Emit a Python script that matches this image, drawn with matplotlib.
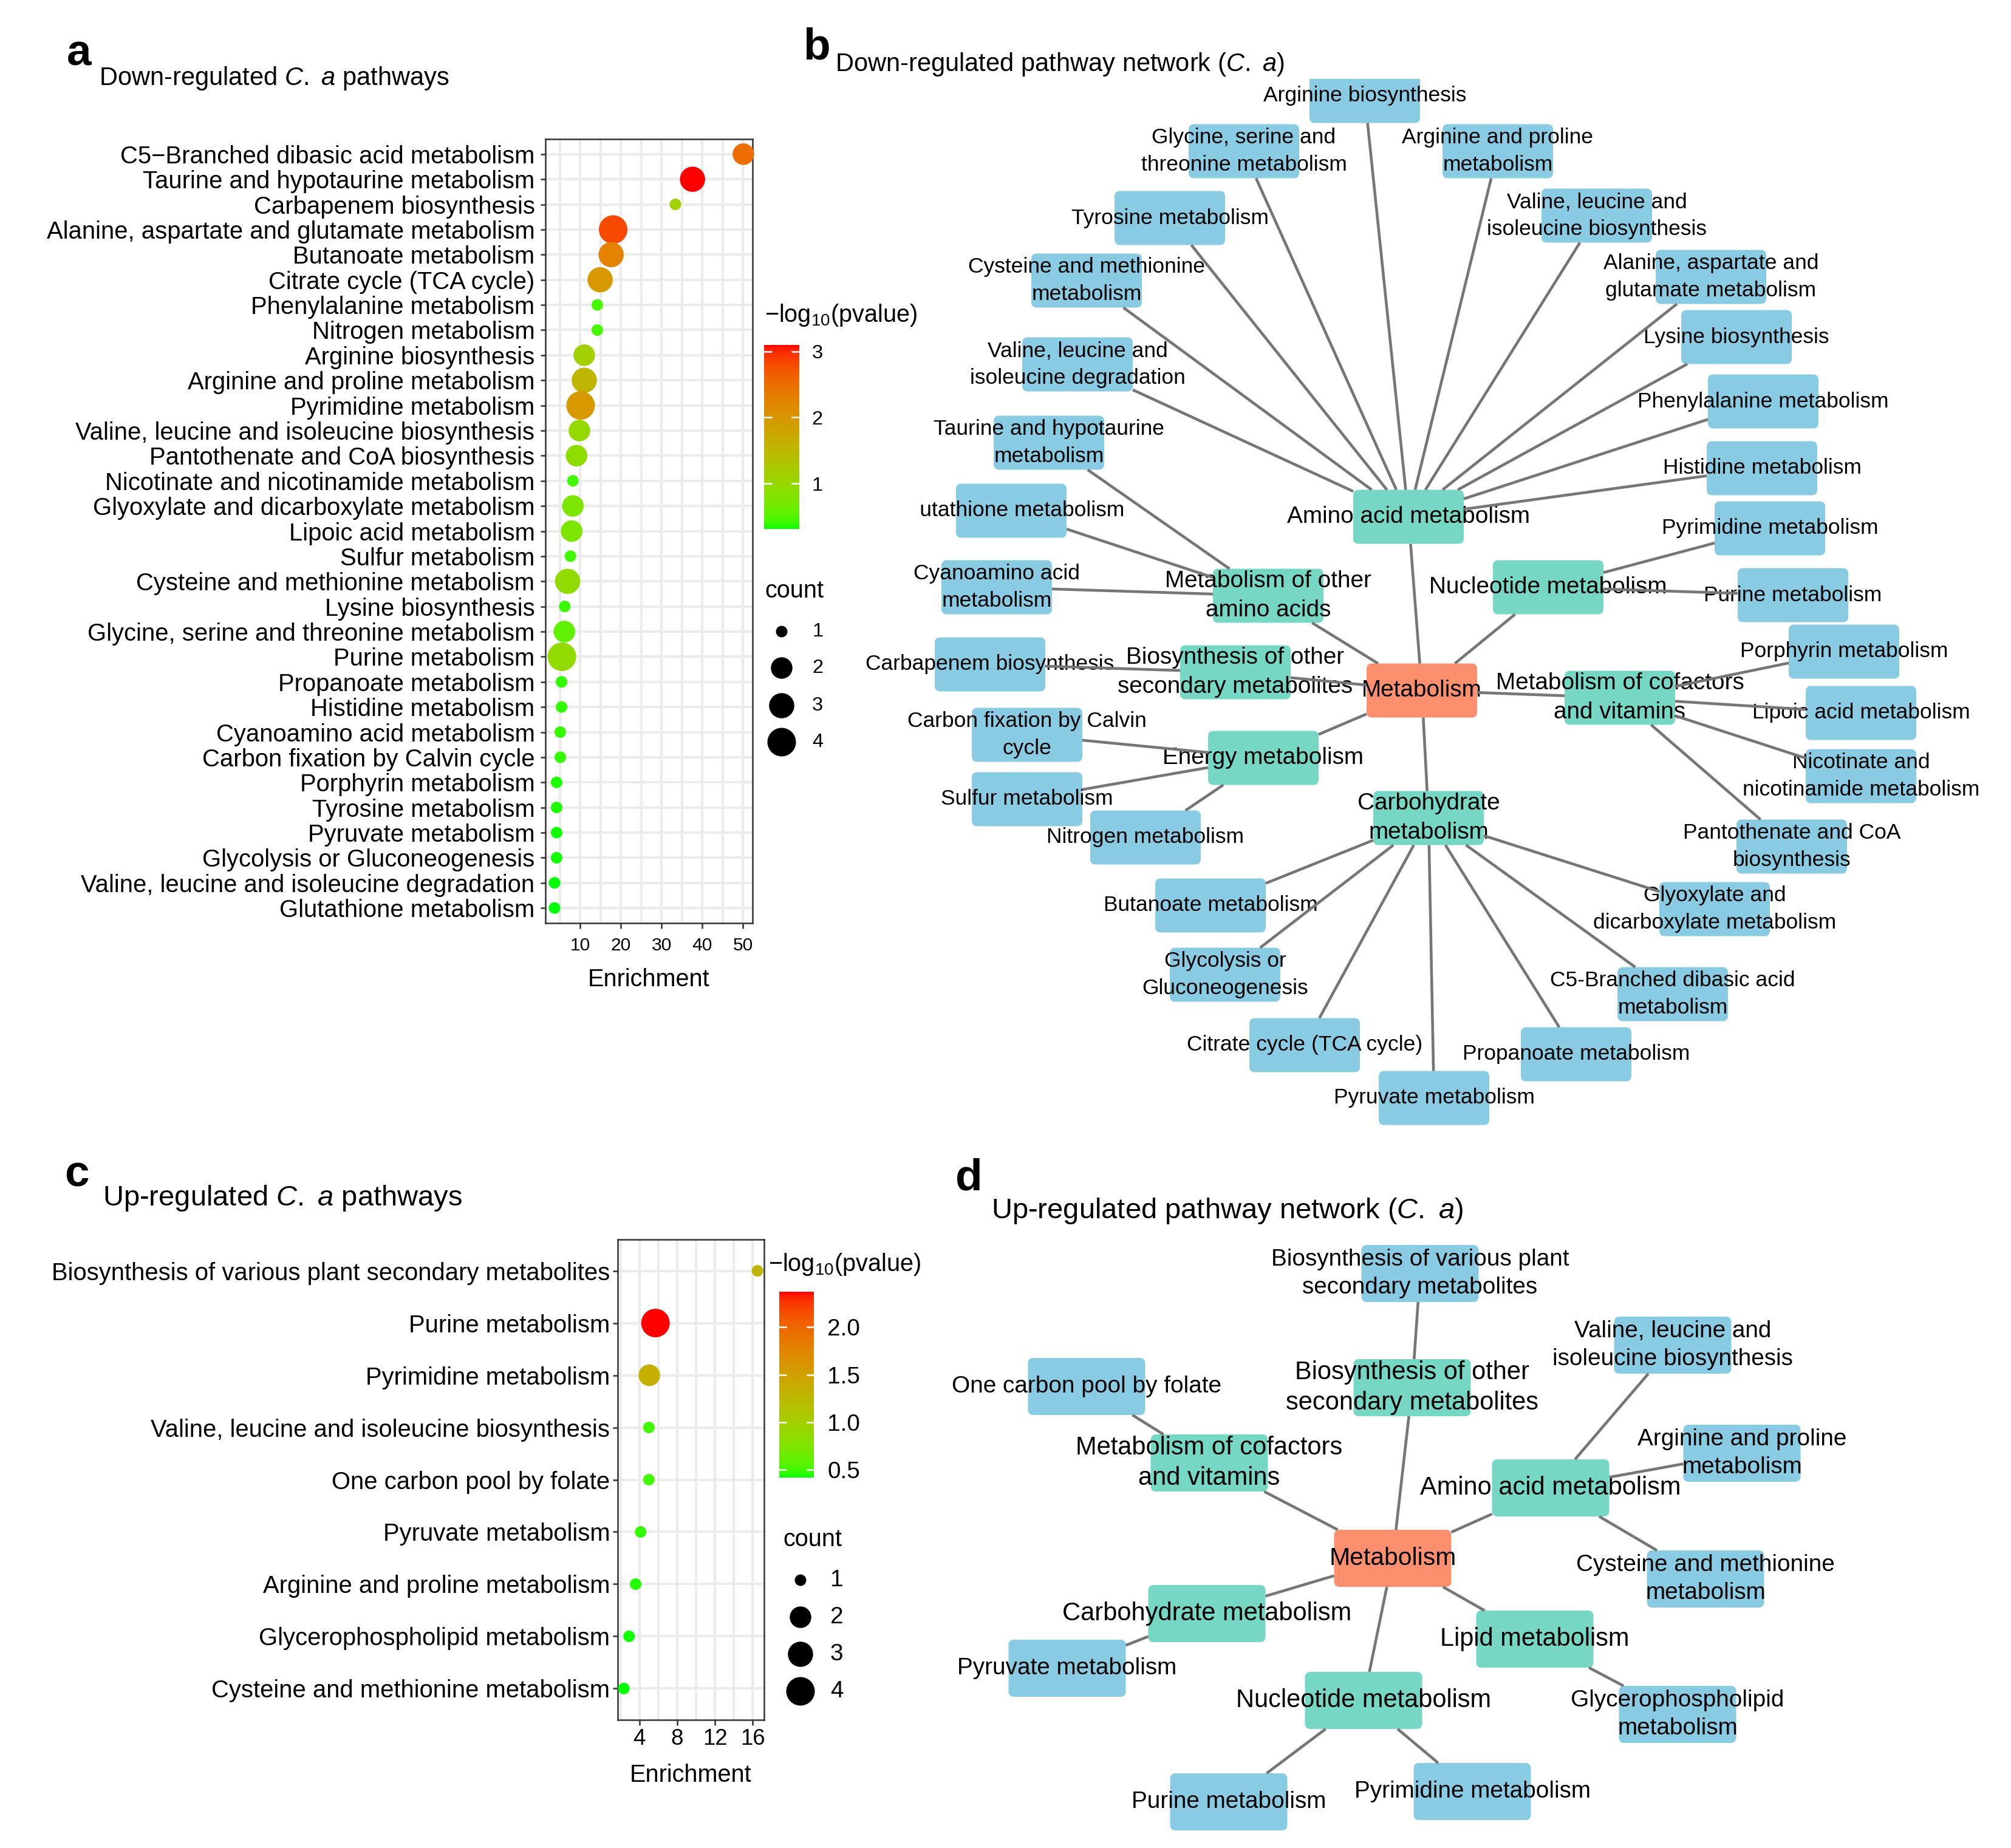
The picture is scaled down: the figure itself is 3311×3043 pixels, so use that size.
import numpy as np
import matplotlib
matplotlib.use('Agg')
import matplotlib.pyplot as plt
from matplotlib.colors import ListedColormap, Normalize
from matplotlib.patches import FancyBboxPatch, Rectangle

plt.rcParams.update({
    'font.family': ['Liberation Sans', 'DejaVu Sans'],
    'mathtext.fontset': 'custom',
    'mathtext.rm': 'Liberation Sans',
    'mathtext.it': 'Liberation Sans:italic',
    'mathtext.bf': 'Liberation Sans:bold',
})

W, H, DPI = 3311, 3043, 300

# ---------------- panel a: down-regulated pathways ----------------
down_paths = [
    "C5\u2212Branched dibasic acid metabolism",
    "Taurine and hypotaurine metabolism",
    "Carbapenem biosynthesis",
    "Alanine, aspartate and glutamate metabolism",
    "Butanoate metabolism",
    "Citrate cycle (TCA cycle)",
    "Phenylalanine metabolism",
    "Nitrogen metabolism",
    "Arginine biosynthesis",
    "Arginine and proline metabolism",
    "Pyrimidine metabolism",
    "Valine, leucine and isoleucine biosynthesis",
    "Pantothenate and CoA biosynthesis",
    "Nicotinate and nicotinamide metabolism",
    "Glyoxylate and dicarboxylate metabolism",
    "Lipoic acid metabolism",
    "Sulfur metabolism",
    "Cysteine and methionine metabolism",
    "Lysine biosynthesis",
    "Glycine, serine and threonine metabolism",
    "Purine metabolism",
    "Propanoate metabolism",
    "Histidine metabolism",
    "Cyanoamino acid metabolism",
    "Carbon fixation by Calvin cycle",
    "Porphyrin metabolism",
    "Tyrosine metabolism",
    "Pyruvate metabolism",
    "Glycolysis or Gluconeogenesis",
    "Valine, leucine and isoleucine degradation",
    "Glutathione metabolism",
]
down_enrich = [50.1, 37.6, 33.4, 18.1, 17.6, 14.9, 14.2, 14.2, 11.0, 11.0, 10.1,
               9.8, 9.1, 8.2, 8.2, 7.9, 7.6, 6.9, 6.2, 6.1, 5.5, 5.4, 5.4, 5.1,
               5.1, 4.2, 4.2, 4.2, 4.2, 3.7, 3.7]
down_count = [2, 3, 1, 4, 3, 3, 1, 1, 2, 3, 4, 2, 2, 1, 2, 2, 1, 3, 1, 2, 4,
              1, 1, 1, 1, 1, 1, 1, 1, 1, 1]
down_logp = [2.49, 3.10, 1.08, 2.82, 2.26, 1.98, 0.45, 0.45, 1.12, 1.56, 1.98,
             0.98, 0.92, 0.42, 0.75, 0.75, 0.42, 0.95, 0.40, 0.55, 0.95, 0.38,
             0.38, 0.38, 0.38, 0.34, 0.34, 0.33, 0.33, 0.32, 0.31]

# ---------------- panel c: up-regulated pathways ----------------
up_paths = [
    "Biosynthesis of various plant secondary metabolites",
    "Purine metabolism",
    "Pyrimidine metabolism",
    "Valine, leucine and isoleucine biosynthesis",
    "One carbon pool by folate",
    "Pyruvate metabolism",
    "Arginine and proline metabolism",
    "Glycerophospholipid metabolism",
    "Cysteine and methionine metabolism",
]
up_enrich = [16.5, 5.7, 5.05, 5.0, 5.0, 4.13, 3.6, 2.9, 2.35]
up_count = [1, 4, 2, 1, 1, 1, 1, 1, 1]
up_logp = [1.30, 2.37, 1.35, 0.50, 0.50, 0.47, 0.45, 0.43, 0.42]

count_levels = [1, 2, 3, 4]

# ---------------- panel b: down-regulated network ----------------
down_links = {
    "Amino acid metabolism": [
        "Arginine biosynthesis", "Glycine, serine and\nthreonine metabolism",
        "Arginine and proline\nmetabolism", "Valine, leucine and\nisoleucine biosynthesis",
        "Tyrosine metabolism", "Alanine, aspartate and\nglutamate metabolism",
        "Cysteine and methionine\nmetabolism", "Lysine biosynthesis",
        "Valine, leucine and\nisoleucine degradation", "Phenylalanine metabolism",
        "Histidine metabolism"],
    "Metabolism of other\namino acids": [
        "Taurine and hypotaurine\nmetabolism", "Glutathione metabolism",
        "Cyanoamino acid\nmetabolism"],
    "Nucleotide metabolism": ["Pyrimidine metabolism", "Purine metabolism"],
    "Biosynthesis of other\nsecondary metabolites": ["Carbapenem biosynthesis"],
    "Metabolism of cofactors\nand vitamins": [
        "Porphyrin metabolism", "Lipoic acid metabolism",
        "Nicotinate and\nnicotinamide metabolism", "Pantothenate and CoA\nbiosynthesis"],
    "Energy metabolism": [
        "Carbon fixation by Calvin\ncycle", "Sulfur metabolism", "Nitrogen metabolism"],
    "Carbohydrate\nmetabolism": [
        "Glyoxylate and\ndicarboxylate metabolism", "C5-Branched dibasic acid\nmetabolism",
        "Propanoate metabolism", "Pyruvate metabolism", "Citrate cycle (TCA cycle)",
        "Glycolysis or\nGluconeogenesis", "Butanoate metabolism"],
}

# node layout (figure pixels, origin top-left)
down_layout = {
    "Metabolism": (2341, 1137),
    "Amino acid metabolism": (2319, 851),
    "Metabolism of other\namino acids": (2088, 981),
    "Nucleotide metabolism": (2549, 967),
    "Biosynthesis of other\nsecondary metabolites": (2034, 1107),
    "Metabolism of cofactors\nand vitamins": (2667, 1149),
    "Energy metabolism": (2080, 1248),
    "Carbohydrate\nmetabolism": (2352, 1347),
    "Arginine biosynthesis": (2247, 158),
    "Glycine, serine and\nthreonine metabolism": (2048, 249),
    "Arginine and proline\nmetabolism": (2466, 249),
    "Valine, leucine and\nisoleucine biosynthesis": (2629, 355),
    "Tyrosine metabolism": (1926, 359),
    "Alanine, aspartate and\nglutamate metabolism": (2817, 456),
    "Cysteine and methionine\nmetabolism": (1789, 462),
    "Lysine biosynthesis": (2859, 555),
    "Valine, leucine and\nisoleucine degradation": (1774, 600),
    "Phenylalanine metabolism": (2903, 661),
    "Histidine metabolism": (2901, 771),
    "Taurine and hypotaurine\nmetabolism": (1727, 729),
    "Glutathione metabolism": (1665, 841),
    "Cyanoamino acid\nmetabolism": (1641, 967),
    "Carbapenem biosynthesis": (1630, 1094),
    "Carbon fixation by Calvin\ncycle": (1691, 1210),
    "Sulfur metabolism": (1691, 1316),
    "Nitrogen metabolism": (1886, 1379),
    "Pyrimidine metabolism": (2914, 870),
    "Purine metabolism": (2952, 980),
    "Porphyrin metabolism": (3036, 1073),
    "Lipoic acid metabolism": (3064, 1174),
    "Nicotinate and\nnicotinamide metabolism": (3064, 1278),
    "Pantothenate and CoA\nbiosynthesis": (2950, 1394),
    "Glyoxylate and\ndicarboxylate metabolism": (2823, 1497),
    "C5-Branched dibasic acid\nmetabolism": (2754, 1637),
    "Propanoate metabolism": (2595, 1736),
    "Pyruvate metabolism": (2361, 1808),
    "Citrate cycle (TCA cycle)": (2148, 1721),
    "Glycolysis or\nGluconeogenesis": (2017, 1605),
    "Butanoate metabolism": (1993, 1491),
}

# ---------------- panel d: up-regulated network ----------------
up_links = {
    "Biosynthesis of other\nsecondary metabolites": ["Biosynthesis of various plant\nsecondary metabolites"],
    "Metabolism of cofactors\nand vitamins": ["One carbon pool by folate"],
    "Amino acid metabolism": [
        "Valine, leucine and\nisoleucine biosynthesis", "Arginine and proline\nmetabolism",
        "Cysteine and methionine\nmetabolism"],
    "Carbohydrate metabolism": ["Pyruvate metabolism"],
    "Lipid metabolism": ["Glycerophospholipid\nmetabolism"],
    "Nucleotide metabolism": ["Purine metabolism", "Pyrimidine metabolism"],
}

up_layout = {
    "Metabolism": (2293, 2566),
    "Biosynthesis of other\nsecondary metabolites": (2325, 2285),
    "Biosynthesis of various plant\nsecondary metabolites": (2338, 2097),
    "Metabolism of cofactors\nand vitamins": (1991, 2409),
    "One carbon pool by folate": (1789, 2283),
    "Amino acid metabolism": (2553, 2450),
    "Valine, leucine and\nisoleucine biosynthesis": (2754, 2215),
    "Arginine and proline\nmetabolism": (2868, 2393),
    "Cysteine and methionine\nmetabolism": (2808, 2600),
    "Carbohydrate metabolism": (1987, 2657),
    "Pyruvate metabolism": (1757, 2747),
    "Lipid metabolism": (2527, 2699),
    "Glycerophospholipid\nmetabolism": (2762, 2823),
    "Nucleotide metabolism": (2245, 2800),
    "Purine metabolism": (2023, 2967),
    "Pyrimidine metabolism": (2424, 2950),
}


def lab_ramp(c0, c1, n=256):
    # green -> red interpolated in CIE Lab, like ggplot's scale_colour_gradient
    M = np.array([[0.4124564, 0.3575761, 0.1804375],
                  [0.2126729, 0.7151522, 0.0721750],
                  [0.0193339, 0.1191920, 0.9503041]])
    white = np.array([0.95047, 1.0, 1.08883])

    def to_lab(rgb):
        c = np.asarray(rgb, float)
        c = np.where(c > 0.04045, ((c + 0.055) / 1.055) ** 2.4, c / 12.92)
        xyz = M @ c / white
        f = np.where(xyz > 0.008856, np.cbrt(xyz), 7.787 * xyz + 16 / 116)
        return np.array([116 * f[1] - 16, 500 * (f[0] - f[1]), 200 * (f[1] - f[2])])

    def to_rgb(lab):
        fy = (lab[0] + 16) / 116
        f = np.array([fy + lab[1] / 500, fy, fy - lab[2] / 200])
        xyz = np.where(f ** 3 > 0.008856, f ** 3, (f - 16 / 116) / 7.787) * white
        c = np.clip(np.linalg.solve(M, xyz), 0, 1)
        return np.clip(np.where(c > 0.0031308, 1.055 * c ** (1 / 2.4) - 0.055, 12.92 * c), 0, 1)

    a, b = to_lab(c0), to_lab(c1)
    return ListedColormap([to_rgb(a + (b - a) * t) for t in np.linspace(0, 1, n)])


cmap = lab_ramp((0, 1, 0), (1, 0, 0))


def dot_pt(count):
    # size scale: count -> marker diameter (px) -> points
    return np.interp(count, [1, 2, 3, 4], [19, 35.5, 41.5, 47]) * 72 / DPI


fig = plt.figure(figsize=(W / DPI, H / DPI), dpi=DPI)


def px_axes(x0, y0, x1, y1, **kw):
    return fig.add_axes([x0 / W, 1 - y1 / H, (x1 - x0) / W, (y1 - y0) / H], **kw)


def dot_panel(box, paths, enrich, count, logp, xlim, major, minor, xfs, ypad, xpad, labpad):
    ax = px_axes(*box)
    n = len(paths)
    y = np.arange(n)[::-1]
    norm = Normalize(min(logp), max(logp))
    ax.scatter(enrich, y, s=dot_pt(np.array(count)) ** 2, c=logp, cmap=cmap, norm=norm,
               edgecolors='none', zorder=3, clip_on=False)
    ax.set_xlim(*xlim)
    ax.set_ylim(-0.6, n - 0.4)
    ax.set_xticks(major)
    ax.set_xticks(minor, minor=True)
    ax.set_yticks(y)
    ax.set_yticklabels(paths, fontsize=9.6)
    ax.tick_params(axis='x', which='major', labelsize=xfs, length=2.2, width=0.6,
                   color='#333333', pad=xpad)
    ax.tick_params(axis='x', which='minor', length=0)
    ax.tick_params(axis='y', length=2, width=0.6, color='#333333', pad=ypad)
    ax.grid(True, which='both', axis='x', color='#EBEBEB', lw=1.0, zorder=0)
    ax.grid(True, which='major', axis='y', color='#EBEBEB', lw=1.0, zorder=0)
    ax.set_axisbelow(True)
    for s in ax.spines.values():
        s.set_color('#333333')
        s.set_linewidth(0.6)
    ax.set_xlabel('Enrichment', fontsize=9.5, labelpad=labpad)
    return ax


dot_panel((898, 229, 1239, 1520), down_paths, down_enrich, down_count, down_logp,
          (1.45, 52.35), [10, 20, 30, 40, 50], [5, 15, 25, 35, 45], 7.2, 2.2, 3.4, 5.5)
dot_panel((1017, 2041, 1258, 2832), up_paths, up_enrich, up_count, up_logp,
          (1.7, 17.2), [4, 8, 12, 16], [2, 6, 10, 14], 8.8, 1.0, 1.2, 5.5)


def network(box, links, layout, bw, bh, fs_leaf, fs_cat, fs_mid, ls):
    ax = px_axes(*box)
    ax.set_xlim(box[0], box[2])
    ax.set_ylim(box[3], box[1])
    ax.axis('off')

    def edge(a, b):
        (x0, y0), (x1, y1) = layout[a], layout[b]
        dx, dy = x1 - x0, y1 - y0
        t = min(bw / 2 / max(abs(dx), 1e-9), bh / 2 / max(abs(dy), 1e-9))
        ax.plot([x0 + dx * t, x1 - dx * t], [y0 + dy * t, y1 - dy * t],
                color='#767676', lw=1.1, zorder=3, solid_capstyle='butt')

    def node(name, color, fs):
        x, y = layout[name]
        ax.add_patch(FancyBboxPatch((x - bw / 2, y - bh / 2), bw, bh,
                                    boxstyle='round,pad=0,rounding_size=9',
                                    fc=color, ec='none', zorder=1))
        ax.text(x, y, name, ha='center', va='center', fontsize=fs, linespacing=ls,
                zorder=2, clip_on=False)

    for cat, leaves in links.items():
        edge('Metabolism', cat)
        for leaf in leaves:
            edge(cat, leaf)
            node(leaf, '#89CBE3', fs_leaf)
        node(cat, '#76D7C4', fs_cat)
    node('Metabolism', '#FC8F6E', fs_mid)
    return ax


network((1330, 130, 3311, 1900), down_links, down_layout, 182, 89, 8.5, 9.3, 9.3, 1.45)
network((1560, 2040, 3311, 3043), up_links, up_layout, 193, 94, 9.3, 10.0, 9.8, 1.35)

# overlay for titles and legends, in figure pixels
ov = fig.add_axes([0, 0, 1, 1], zorder=5)
ov.set_xlim(0, W)
ov.set_ylim(H, 0)
ov.axis('off')
ov.patch.set_alpha(0)

# legend background of panel a (covers the panel b label behind it)
ov.add_patch(Rectangle((1244, 488), 268, 400, fc='white', ec='none', zorder=0))

titles = [
    (110, 108, 'a', 17.5, 'bold'),
    (163, 140, r'Down-regulated $\mathit{C.}$ $\mathit{a}$ pathways', 10.0, 'normal'),
    (1322, 98, 'b', 17.5, 'bold'),
    (1375, 117, r'Down-regulated pathway network ($\mathit{C.}$ $\mathit{a}$)', 10.0, 'normal'),
    (106, 1953, 'c', 17.5, 'bold'),
    (169, 1985, r'Up-regulated $\mathit{C.}$ $\mathit{a}$ pathways', 11.3, 'normal'),
    (1573, 1960, 'd', 17.5, 'bold'),
    (1632, 2006, r'Up-regulated pathway network ($\mathit{C.}$ $\mathit{a}$)', 11.3, 'normal'),
]
for x, y, s, fs, fw in titles:
    ov.text(x, y, s, fontsize=fs, fontweight=fw, va='baseline', ha='left')


def legends(logp, bar, ticks, fmt, tfs, title_xy, count_title_xy, dot_x, dot_y, lab_x, lab_pad):
    vmin, vmax = min(logp), max(logp)
    ov.text(title_xy[0], title_xy[1], '\u2212log$_{10}$(pvalue)', fontsize=9.5, va='baseline')
    cax = px_axes(*bar, zorder=6)
    grad = np.linspace(vmin, vmax, 400).reshape(-1, 1)
    cax.imshow(grad, aspect='auto', cmap=cmap, norm=Normalize(vmin, vmax),
               extent=[0, 1, vmin, vmax], origin='lower')
    cax.set_xlim(0, 1)
    cax.set_ylim(vmin, vmax)
    for t in ticks:
        cax.plot([0, 0.2], [t, t], color='white', lw=0.6)
        cax.plot([0.8, 1], [t, t], color='white', lw=0.6)
    cax.set_xticks([])
    cax.yaxis.tick_right()
    cax.set_yticks(ticks)
    cax.set_yticklabels([fmt.format(t) for t in ticks])
    cax.tick_params(axis='y', length=0, pad=lab_pad, labelsize=tfs)
    for s in cax.spines.values():
        s.set_visible(False)
    ov.text(count_title_xy[0], count_title_xy[1], 'count', fontsize=9.5, va='baseline')
    ov.scatter([dot_x] * len(count_levels), dot_y, s=dot_pt(np.array(count_levels)) ** 2,
               color='black', edgecolors='none')
    for c, yy in zip(count_levels, dot_y):
        ov.text(lab_x, yy, str(c), fontsize=tfs, va='center', ha='left')


legends(down_logp, (1258, 568, 1316, 871), [1, 2, 3], '{:.0f}', 7.8, (1259, 530),
        (1259, 984), 1287, [1040, 1100, 1162, 1222], 1337, 5.0)
legends(up_logp, (1283, 2127, 1340, 2433), [0.5, 1.0, 1.5, 2.0], '{:.1f}', 9.3, (1265, 2093),
        (1289, 2546), 1318, [2602, 2663, 2724, 2785], 1367, 5.3)

fig.savefig('out.png', dpi=DPI, facecolor='white')
